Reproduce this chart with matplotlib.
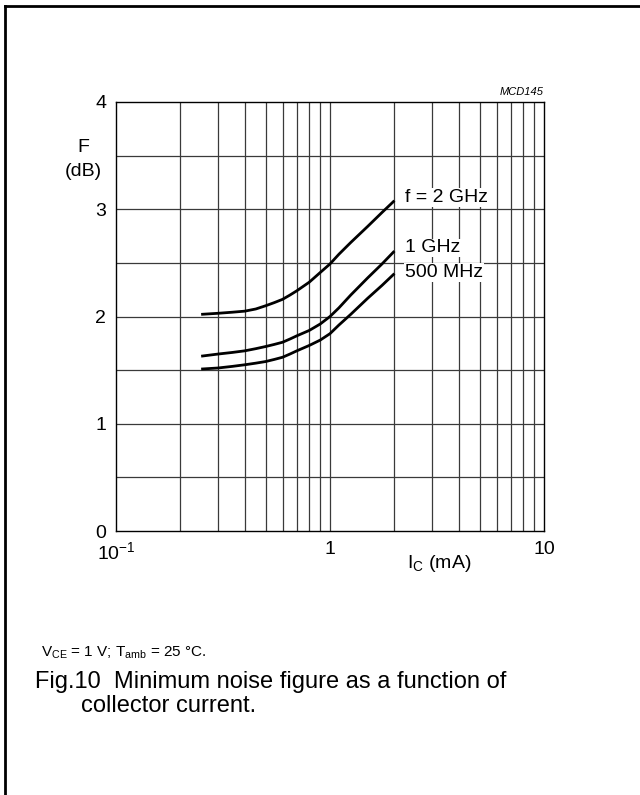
import matplotlib
matplotlib.use("Agg")
import matplotlib.pyplot as plt
import numpy as np
from matplotlib.lines import Line2D

plt.rcParams["font.family"] = ["Liberation Sans", "DejaVu Sans"]
plt.rcParams["mathtext.fontset"] = "custom"
plt.rcParams["mathtext.rm"] = "Liberation Sans"
plt.rcParams["mathtext.it"] = "Liberation Sans:italic"

# collector current (mA) and minimum noise figure (dB)
ic = [0.25, 0.3, 0.35, 0.4, 0.45, 0.5, 0.55, 0.6, 0.65, 0.7, 0.8, 0.9,
      1.0, 1.1, 1.25, 1.5, 1.75, 2.0]
f_2ghz = [2.02, 2.03, 2.04, 2.05, 2.07, 2.10, 2.13, 2.16, 2.20, 2.24, 2.32, 2.41,
          2.49, 2.58, 2.69, 2.84, 2.97, 3.08]
f_1ghz = [1.63, 1.65, 1.665, 1.68, 1.70, 1.72, 1.74, 1.76, 1.79, 1.82, 1.87, 1.93,
          2.00, 2.08, 2.20, 2.36, 2.49, 2.61]
f_500mhz = [1.51, 1.52, 1.535, 1.55, 1.565, 1.58, 1.60, 1.62, 1.65, 1.68, 1.73, 1.78,
            1.84, 1.92, 2.02, 2.17, 2.29, 2.40]

series = [
    ("f = 2 GHz", f_2ghz, 3.11),
    ("1 GHz", f_1ghz, 2.64),
    ("500 MHz", f_500mhz, 2.41),
]

x_ticks = [0.1, 1, 10]
x_tick_labels = ["$10^{-1}$", "1", "10"]
y_ticks = [0, 1, 2, 3, 4]

fig = plt.figure(figsize=(6.4, 7.95), dpi=100)
ax = fig.add_axes([116 / 640, 1 - 531 / 795, 428 / 640, 429 / 795])
ax.set_xscale("log")
ax.set_xlim(0.1, 10)
ax.set_ylim(0, 4)

# grid lines
for decade in [0.1, 1]:
    for m in range(1, 10):
        v = decade * m
        if 0.1 < v < 10:
            ax.axvline(v, color="#3a3a3a", lw=0.9, zorder=1)
for h in np.arange(0.5, 4, 0.5):
    ax.axhline(h, color="#3a3a3a", lw=0.9, zorder=1)

for label, values, label_y in series:
    ax.plot(ic, values, color="black", lw=2.0, solid_capstyle="butt",
            solid_joinstyle="round", zorder=3)
    ax.text(2.24, label_y, label, fontsize=14, ha="left", va="center",
            bbox=dict(facecolor="white", edgecolor="none", pad=0.5), zorder=4)

ax.set_xticks(x_ticks)
ax.set_xticklabels(x_tick_labels, fontsize=14)
ax.set_xticks([], minor=True)
ax.set_yticks(y_ticks)
ax.set_yticklabels([str(v) for v in y_ticks], fontsize=14)
ax.tick_params(length=0, pad=7)
for spine in ax.spines.values():
    spine.set_linewidth(1.0)

ax.text(1.0, 1.012, "MCD145", transform=ax.transAxes, ha="right", va="bottom",
        fontsize=8, style="italic")

fig.text(83 / 640, 1 - 147 / 795, "F", fontsize=14, ha="center", va="center")
fig.text(83 / 640, 1 - 171 / 795, "(dB)", fontsize=14, ha="center", va="center")
fig.text(407 / 640, 1 - 563 / 795, r"I$_{\rm C}$ (mA)", fontsize=14, ha="left", va="center")

fig.text(41 / 640, 1 - 653 / 795, r"V$_{\rm CE}$ = 1 V; T$_{\rm amb}$ = 25 °C.",
         fontsize=11, ha="left", va="center")
fig.text(35 / 640, 1 - 682 / 795, "Fig.10  Minimum noise figure as a function of",
         fontsize=17, ha="left", va="center")
fig.text(81 / 640, 1 - 706 / 795, "collector current.",
         fontsize=17, ha="left", va="center")

# page frame: left and top edges
fig.add_artist(Line2D([5 / 640, 5 / 640], [0, 1 - 6 / 795], color="black", lw=2,
                      transform=fig.transFigure))
fig.add_artist(Line2D([5 / 640, 1], [1 - 6 / 795, 1 - 6 / 795], color="black", lw=2,
                      transform=fig.transFigure))

fig.savefig("out.png", dpi=100)
